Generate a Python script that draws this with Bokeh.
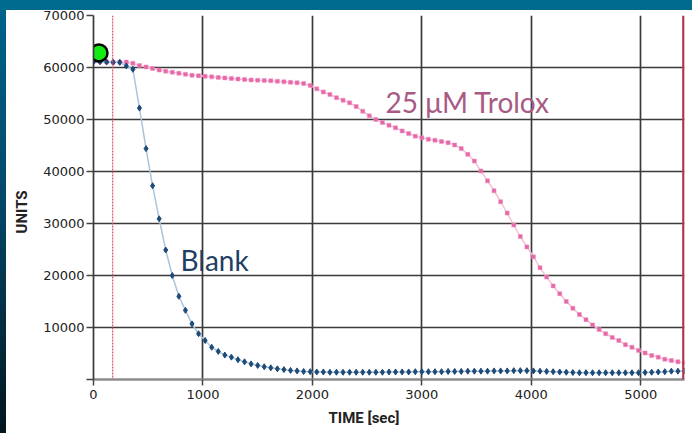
from bokeh.plotting import figure
from bokeh.models import Range1d, FixedTicker, Span, Label, Title
from bokeh.embed import file_html
from bokeh.resources import INLINE

# ---- data ----
time_sec = [0, 60, 120, 180, 240, 300, 360, 420, 480, 540,
            600, 660, 720, 780, 840, 900, 960, 1020, 1080, 1140,
            1200, 1260, 1320, 1380, 1440, 1500, 1560, 1620, 1680, 1740,
            1800, 1860, 1920, 1980, 2040, 2100, 2160, 2220, 2280, 2340,
            2400, 2460, 2520, 2580, 2640, 2700, 2760, 2820, 2880, 2940,
            3000, 3060, 3120, 3180, 3240, 3300, 3360, 3420, 3480, 3540,
            3600, 3660, 3720, 3780, 3840, 3900, 3960, 4020, 4080, 4140,
            4200, 4260, 4320, 4380, 4440, 4500, 4560, 4620, 4680, 4740,
            4800, 4860, 4920, 4980, 5040, 5100, 5160, 5220, 5280, 5340,
            5400]

blank_units = [61100, 61100, 61050, 61000, 61000, 60300, 59650, 52200, 44400, 37250,
               30900, 24900, 20000, 16000, 13300, 10700, 8800, 7500, 6200, 5400,
               4700, 4300, 3800, 3400, 3000, 2700, 2450, 2250, 2050, 1900,
               1750, 1650, 1550, 1500, 1450, 1450, 1400, 1400, 1400, 1400,
               1400, 1400, 1400, 1400, 1400, 1450, 1450, 1450, 1450, 1500,
               1500, 1500, 1500, 1500, 1550, 1550, 1550, 1600, 1600, 1600,
               1600, 1650, 1650, 1650, 1700, 1700, 1700, 1650, 1600, 1550,
               1500, 1450, 1400, 1350, 1300, 1300, 1300, 1300, 1300, 1300,
               1300, 1300, 1300, 1300, 1350, 1400, 1450, 1500, 1600, 1600,
               1650]

trolox_units = [61200, 61150, 61100, 61000, 61000, 61050, 60800, 60400, 60100, 59800,
                59500, 59300, 59100, 58900, 58700, 58500, 58400, 58300, 58200, 58100,
                58000, 57900, 57800, 57700, 57600, 57550, 57500, 57450, 57350, 57250,
                57150, 57050, 56900, 56550, 55900, 55300, 54800, 54200, 53700, 53200,
                52500, 51600, 50700, 50000, 49400, 48900, 48400, 47800, 47300, 46800,
                46500, 46200, 46000, 45750, 45550, 45100, 44400, 43300, 42000, 40100,
                38200, 36300, 34200, 32000, 29700, 27500, 25500, 23600, 21500, 19700,
                18000, 16500, 15000, 13700, 12500, 11500, 10500, 9600, 8800, 8100,
                7500, 6700, 6200, 5600, 5100, 4600, 4300, 3900, 3650, 3400,
                3150]

start_x = [50]
start_y = [62800]

marker_lines = [175, 5390]

x_ticks = [0, 1000, 2000, 3000, 4000, 5000]
y_ticks = [0, 10000, 20000, 30000, 40000, 50000, 60000, 70000]
y_grid = [10000, 20000, 30000, 40000, 50000, 60000, 70000]

# ---- figure ----
p = figure(width=692, height=433,
           x_range=Range1d(0, 5400), y_range=Range1d(0, 70000),
           output_backend="svg", toolbar_location=None,
           min_border_left=93, min_border_right=8,
           min_border_top=15, min_border_bottom=54,
           border_fill_color=None, background_fill_color="white",
           outline_line_color=None)

p.styles = {
    "background": ("linear-gradient(#006a8f, #006a8f) 0 0 / 100% 10px no-repeat, "
                   "linear-gradient(180deg, #00648b 0%, #04486a 45%, #02161e 100%) 0 0 / 6px 100% no-repeat, "
                   "#ffffff"),
}

grid_color = "#3a3a3a"
p.xgrid.ticker = FixedTicker(ticks=x_ticks)
p.ygrid.ticker = FixedTicker(ticks=y_grid)
p.xgrid.grid_line_color = grid_color
p.ygrid.grid_line_color = grid_color
p.xgrid.grid_line_width = 1.7
p.ygrid.grid_line_width = 1.7

for ax in (p.xaxis[0], p.yaxis[0]):
    ax.major_label_text_font = "DejaVu Sans"
    ax.major_label_text_font_size = "13px"
    ax.major_label_text_color = "#222222"
    ax.minor_tick_line_color = None
    ax.major_tick_in = 0
    ax.major_tick_line_color = "#444444"
    ax.major_tick_line_width = 1.5

p.xaxis.ticker = FixedTicker(ticks=x_ticks)
p.xaxis.axis_line_color = "#8c8c8c"
p.xaxis.axis_line_width = 2.5
p.xaxis.major_tick_out = 6
p.xaxis.major_label_standoff = 4

p.yaxis.ticker = FixedTicker(ticks=y_ticks)
p.yaxis.major_label_overrides = {0: ""}
p.yaxis.axis_line_color = "#3a3a3a"
p.yaxis.axis_line_width = 1.7
p.yaxis.major_tick_out = 7
p.yaxis.major_label_standoff = 2

# series
p.line(time_sec, trolox_units, line_color="#f6bfd9", line_width=1.5)
p.scatter(time_sec, trolox_units, marker="square", size=4,
          fill_color="#e667a8", line_color="#ee8fbf", line_width=0.5)

p.line(time_sec, blank_units, line_color="#a9c5dd", line_width=1.5)
p.scatter(time_sec, blank_units, marker="diamond", size=6,
          fill_color="#1d4a77", line_color="#1d4a77")

p.scatter(start_x, start_y, size=17, fill_color="#14ea14",
          line_color="black", line_width=2.5)

p.add_layout(Span(location=marker_lines[0], dimension="height",
                  line_color="#e0506a", line_dash="2 1", line_width=1.2))
p.add_layout(Span(location=marker_lines[1], dimension="height",
                  line_color="#b0384f", line_width=2.5))

# in-plot texts
p.add_layout(Label(x=795, y=22900, text="Blank", text_font="Lato",
                   text_font_size="28px", text_color="#1f3f66",
                   text_baseline="alphabetic", text_align="left"))
p.add_layout(Label(x=2669, y=53300, text="25 μM Trolox", text_font="Lato",
                   text_font_size="28px", text_color="#a85a85",
                   text_baseline="alphabetic", text_align="left"))

# axis titles
p.add_layout(Title(text="TIME [sec]", align="left", offset=235, standoff=10,
                   text_font="Roboto", text_font_size="15px",
                   text_font_style="bold", text_color="#222222"), "below")
p.add_layout(Title(text="UNITS", align="left", offset=146, standoff=19,
                   text_font="Roboto", text_font_size="15px",
                   text_font_style="bold", text_color="#222222"), "left")

open("out.html", "w").write(file_html(p, INLINE))
